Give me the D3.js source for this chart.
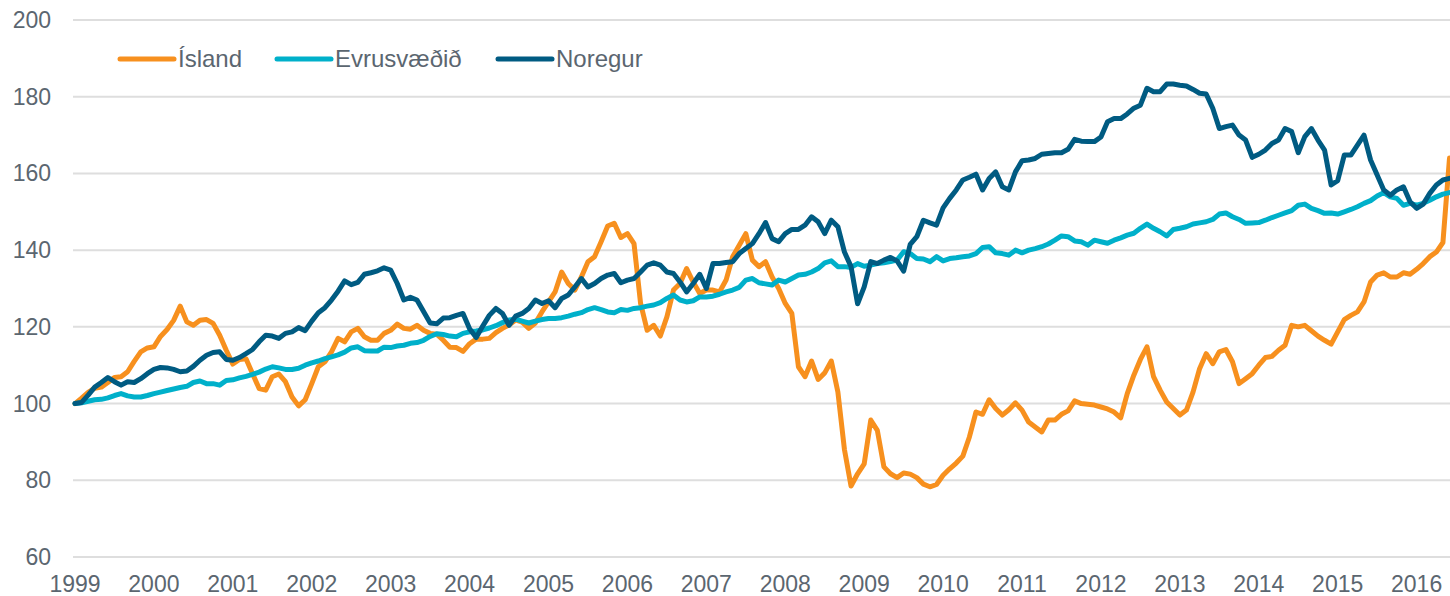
<!DOCTYPE html>
<html>
<head>
<meta charset="utf-8">
<script src="https://cdn.jsdelivr.net/npm/d3@7"></script>
<style>
  body { margin: 0; background: #fff; }
  text { font-family: "Liberation Sans", Arial, sans-serif; fill: #5b6670; }
</style>
</head>
<body>
<script>
// monthly index, jan 1999 = 100
let island = [100,101.4,102.9,104,104.3,105.5,106.8,107,108.3,111,113.5,114.5,
  114.8,117.5,119.3,121.7,125.4,121.3,120.4,121.7,121.9,120.9,117.8,113.9,
  110.3,111.5,111.7,107.8,103.9,103.5,107,107.7,105.7,101.7,99.4,101,
  105.2,109.6,110.9,113.5,117,116.1,118.7,119.6,117.4,116.5,116.5,118.3,
  119.1,120.7,119.6,119.4,120.4,119.1,118.3,118.1,116.5,114.7,114.6,113.6,
  115.6,116.8,116.8,117,118.5,119.6,120.5,121.8,121.2,119.6,121,123.9,
  126.5,129.1,134.3,131.3,129.6,133,137,138.3,142.2,146.3,147,143.3,
  144.3,141.7,126.1,119.1,120.4,117.6,122.6,129.6,131.3,135.2,131.7,128.7,
  129.6,129.6,129.1,132.2,138.3,141.3,144.3,137.4,135.7,137,133,130,
  126.1,123.5,109.6,107,111.1,106.3,108,111.1,103,88,78.5,81.7,
  84.3,95.7,93,83.5,81.7,80.7,81.9,81.6,80.7,79,78.3,78.9,
  81.3,83,84.5,86.3,91.3,97.8,97.2,101,98.7,97,98.4,100.2,
  98.3,95.2,93.9,92.6,95.7,95.7,97.2,98.1,100.7,100,99.8,99.6,
  99.1,98.6,97.8,96.3,102.6,107.4,111.5,114.8,107,103.5,100.4,98.7,
  97,98.3,103,109.1,113,110.4,113.5,114.1,110.9,105.2,106.5,107.8,
  110,112,112.3,113.9,115.2,120.4,120,120.4,119,117.6,116.5,115.5,
  118.7,121.9,123,123.9,126.5,131.7,133.5,134.1,133,133,134.1,133.7,
  135,136.5,138.3,139.5,142,164]

let evra = [100,100.2,100.6,101,101.1,101.5,102.1,102.6,102,101.7,101.7,102.1,
  102.6,103,103.4,103.8,104.2,104.5,105.5,105.9,105.2,105.2,104.8,106,
  106.2,106.7,107.1,107.6,108.2,109,109.6,109.3,108.9,108.9,109.2,110,
  110.6,111.1,111.7,112.2,112.7,113.4,114.5,114.8,113.8,113.7,113.7,114.7,
  114.6,115,115.2,115.7,115.9,116.5,117.5,118.2,118,117.6,117.4,118.3,
  118.7,118.9,119.2,119.7,120.3,121.1,121.8,122,121.5,121,121.5,121.9,
  122.2,122.2,122.4,122.8,123.3,123.7,124.5,125,124.5,123.9,123.7,124.5,
  124.3,124.8,125,125.4,125.7,126.3,127.4,128.3,127,126.5,126.8,127.8,
  127.8,128,128.5,129.1,129.6,130.3,132.2,132.6,131.5,131.2,130.9,132.2,
  131.7,132.6,133.5,133.7,134.3,135.2,136.7,137.2,135.7,135.7,135.5,136.5,
  135.8,136.1,136.5,136.7,137,137.4,139.6,139.1,137.8,137.7,137,138.3,
  137.2,137.8,138,138.3,138.5,139.1,140.7,140.9,139.3,139.1,138.7,140,
  139.3,140,140.4,140.9,141.6,142.6,143.7,143.5,142.4,142.2,141.3,142.6,
  142.2,141.8,142.6,143.2,143.9,144.4,145.7,146.8,145.7,144.8,143.7,145.4,
  145.7,146.1,146.8,147.1,147.4,148,149.4,149.7,148.7,148,147,147.1,
  147.2,147.8,148.5,149.1,149.7,150.3,151.7,152,150.9,150.3,149.6,149.7,
  149.4,150,150.6,151.3,152.2,152.9,154.1,155,153.9,153.5,151.7,152.2,
  151.7,152.2,153,153.9,154.6,155]

let noregur = [100,100.3,102.2,104.3,105.5,106.8,105.7,104.8,105.7,105.5,106.5,107.8,
  108.9,109.4,109.3,108.9,108.3,108.5,109.7,111.3,112.6,113.3,113.5,111.5,
  111.3,112,113,114.1,116.1,117.8,117.6,117,118.3,118.7,119.8,119,
  121.5,123.7,125,127,129.3,132,131,131.6,133.7,134.1,134.6,135.4,
  134.8,131.3,127,127.7,127,124,121,120.8,122.3,122.4,123,123.5,
  119.5,117.2,120.2,123,124.8,123.5,120.4,122.8,123.5,124.8,127,126.1,
  126.8,125,127.4,128.3,130.4,132.6,130.4,131.3,132.6,133.5,133.9,131.5,
  132.2,132.6,134.3,136.1,136.7,136.1,134.3,133.9,131.7,129.1,131.3,133.7,
  130,136.5,136.5,136.8,137,139.1,140.4,141.7,144.3,147.2,143,142.2,
  144.3,145.4,145.4,146.5,148.7,147.4,144.3,147.8,146.1,139.5,135.7,126,
  130.4,137,136.5,137.4,138.1,137.2,134.5,141.5,143.5,147.8,147.1,146.5,
  151,153.5,155.7,158.3,159,159.8,155.7,158.7,160.4,156.5,155.7,160.4,
  163.3,163.5,163.9,165,165.2,165.4,165.4,166.3,168.9,168.4,168.3,168.3,
  169.5,173.5,174.3,174.3,175.5,177,177.8,182.2,181.3,181.3,183.3,183.3,
  183,182.8,181.9,180.9,180.7,177,171.7,172.2,172.6,170,168.7,164.2,
  165,166.1,167.8,168.7,171.7,170.9,165.4,169.6,171.7,168.7,166.1,157,
  158.1,164.8,164.8,167.4,170,163.5,159.6,155.7,154.3,155.7,156.5,152.6,
  150.9,152,154.8,157,158.3,158.7]

let yearLabels = d3.range(1999, 2017)
let yTicks = [60, 80, 100, 120, 140, 160, 180, 200]

let series = [
  {name: "Ísland", values: island, color: "#f7901e"},
  {name: "Evrusvæðið", values: evra, color: "#00b0ca"},
  {name: "Noregur", values: noregur, color: "#005b82"},
]

let width = 1450
let height = 596
let margin = {top: 20, left: 75, right: 0.5, bottom: 39}

let svg = d3.select("body")
  .append("svg")
  .attr("width", width)
  .attr("height", height)

let x = d3.scaleLinear()
  .domain([0, island.length - 1])
  .range([margin.left, width - margin.right])

let y = d3.scaleLinear()
  .domain([60, 200])
  .range([height - margin.bottom, margin.top])

// gridlines
svg.append("g")
  .selectAll("line")
  .data(yTicks)
  .join("line")
  .attr("x1", margin.left - 2)
  .attr("x2", width)
  .attr("y1", d => y(d))
  .attr("y2", d => y(d))
  .attr("stroke", "#dedede")
  .attr("stroke-width", 2)

// y labels
svg.append("g")
  .selectAll("text")
  .data(yTicks)
  .join("text")
  .attr("x", 51)
  .attr("y", d => y(d))
  .attr("dy", "0.35em")
  .attr("text-anchor", "end")
  .style("font-size", "23px")
  .text(d => d)

// x labels, one per january
svg.append("g")
  .selectAll("text")
  .data(yearLabels)
  .join("text")
  .attr("x", (d, i) => x(i * 12))
  .attr("y", 592)
  .attr("text-anchor", "middle")
  .style("font-size", "23px")
  .text(d => d)

let line = d3.line()
  .x((d, i) => x(i))
  .y(d => y(d))

svg.append("g")
  .selectAll("path")
  .data(series)
  .join("path")
  .attr("d", d => line(d.values))
  .attr("fill", "none")
  .attr("stroke", d => d.color)
  .attr("stroke-width", 5)
  .attr("stroke-linejoin", "round")
  .attr("stroke-linecap", "round")

// legend
let legendX = [120, 277, 498]
let legend = svg.append("g")
  .selectAll("g")
  .data(series)
  .join("g")
  .attr("transform", (d, i) => `translate(${legendX[i]},59)`)

legend.append("line")
  .attr("x1", 0)
  .attr("x2", 54)
  .attr("stroke", d => d.color)
  .attr("stroke-width", 5)
  .attr("stroke-linecap", "round")

legend.append("text")
  .attr("x", 58)
  .attr("dy", "0.35em")
  .style("font-size", "24px")
  .text(d => d.name)
</script>
</body>
</html>
